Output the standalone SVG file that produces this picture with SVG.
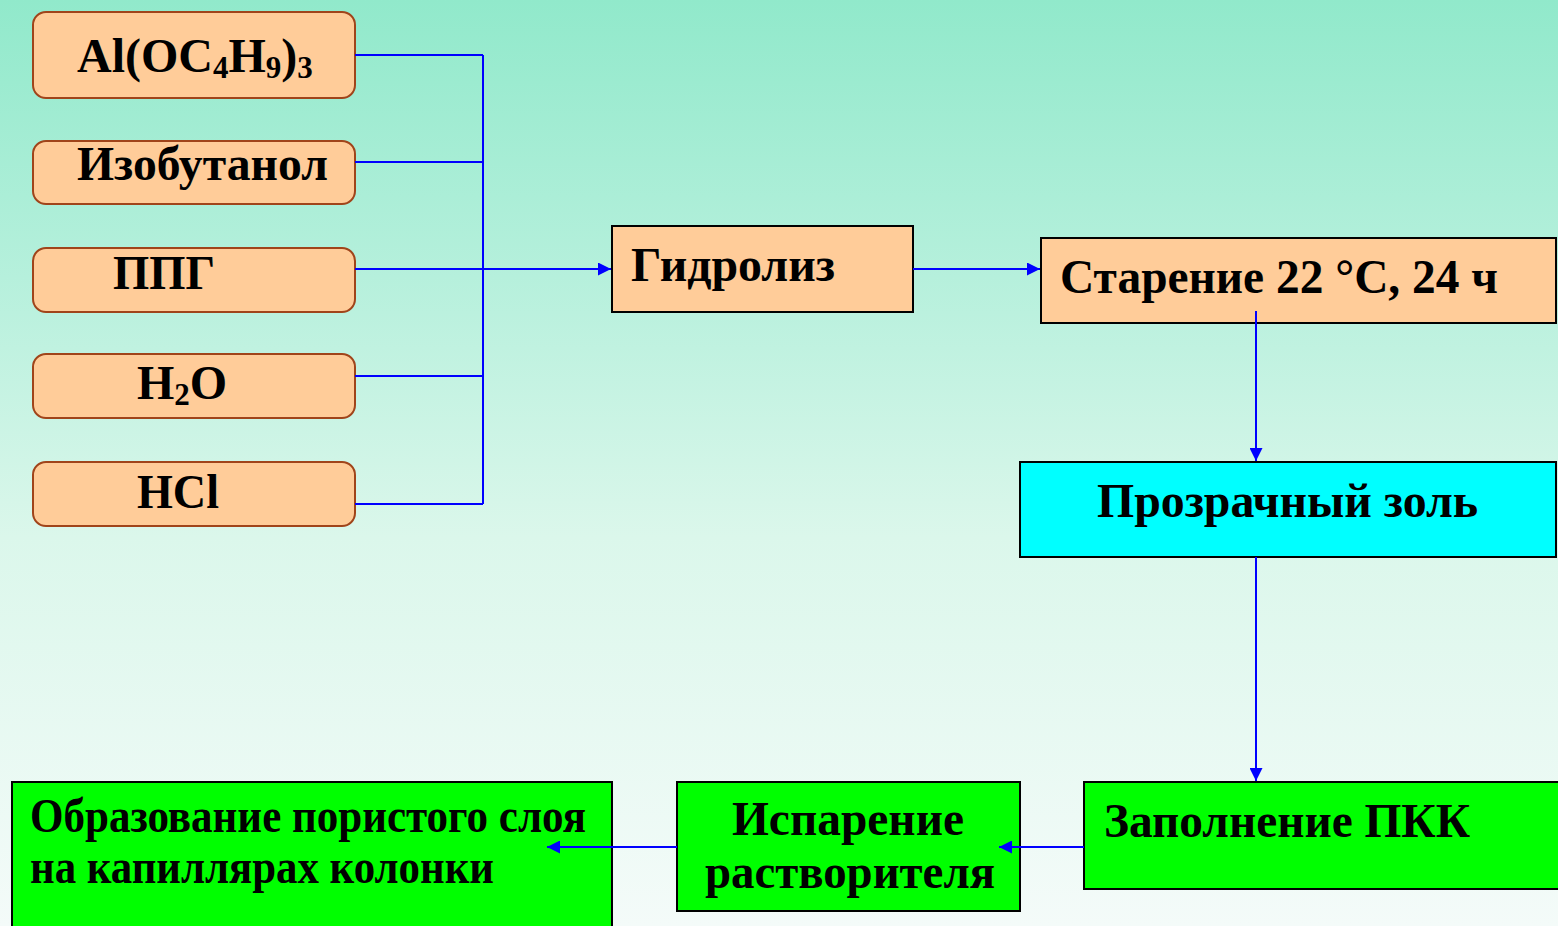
<svg xmlns="http://www.w3.org/2000/svg" width="1558" height="926" viewBox="0 0 1558 926">
  <defs>
    <linearGradient id="bg" x1="0" y1="0" x2="0" y2="1">
      <stop offset="0" stop-color="#91e9cb"/>
      <stop offset="0.3" stop-color="#b6f0dc"/>
      <stop offset="0.58" stop-color="#dbf7eb"/>
      <stop offset="1" stop-color="#f4fbf9"/>
    </linearGradient>
    <marker id="arr" markerUnits="userSpaceOnUse" markerWidth="13" markerHeight="13" refX="13" refY="6.5" orient="auto">
      <path d="M0,0 L13,6.5 L0,13 Z" fill="#0000ff"/>
    </marker>
    <style>
      .t { font-family: "Liberation Serif", "Times New Roman", serif; font-weight: bold; fill: #000; }
      .reagent { fill: #ffcc99; stroke: #a0441a; stroke-width: 2; }
      .step { fill: #ffcc99; stroke: #000; stroke-width: 2; }
      .sol { fill: #00ffff; stroke: #000; stroke-width: 2; }
      .green { fill: #00ff00; stroke: #000; stroke-width: 2; }
      .wire { fill: none; stroke: #0000ff; stroke-width: 2; }
    </style>
  </defs>

  <rect x="0" y="0" width="1558" height="926" fill="url(#bg)"/>

  <!-- reagents -->
  <g id="n-alkoxide">
    <rect class="reagent" x="33" y="12" width="322" height="86" rx="13"/>
    <text class="t" x="77" y="72" font-size="48">Al(OC<tspan font-size="31" dy="6">4</tspan><tspan dy="-6">H</tspan><tspan font-size="31" dy="6">9</tspan><tspan dy="-6">)</tspan><tspan font-size="31" dy="6">3</tspan></text>
  </g>
  <g id="n-isobutanol">
    <rect class="reagent" x="33" y="141" width="322" height="63" rx="13"/>
    <text class="t" x="77" y="180" font-size="48" textLength="251" lengthAdjust="spacingAndGlyphs">Изобутанол</text>
  </g>
  <g id="n-ppg">
    <rect class="reagent" x="33" y="248" width="322" height="64" rx="13"/>
    <text class="t" x="113" y="289" font-size="48" textLength="102" lengthAdjust="spacingAndGlyphs">ППГ</text>
  </g>
  <g id="n-water">
    <rect class="reagent" x="33" y="354" width="322" height="64" rx="13"/>
    <text class="t" x="137" y="399" font-size="48">H<tspan font-size="31" dy="6">2</tspan><tspan dy="-6">O</tspan></text>
  </g>
  <g id="n-hcl">
    <rect class="reagent" x="33" y="462" width="322" height="64" rx="13"/>
    <text class="t" x="137" y="508" font-size="48" textLength="82" lengthAdjust="spacingAndGlyphs">HCl</text>
  </g>

  <!-- process steps -->
  <g id="n-hydrolysis">
    <rect class="step" x="612" y="226" width="301" height="86"/>
    <text class="t" x="631" y="281" font-size="48" textLength="204" lengthAdjust="spacingAndGlyphs">Гидролиз</text>
  </g>
  <g id="n-ageing">
    <rect class="step" x="1041" y="238" width="515" height="85"/>
    <text class="t" x="1060" y="293" font-size="48" textLength="438" lengthAdjust="spacingAndGlyphs">Старение 22 °C, 24 ч</text>
  </g>
  <g id="n-sol">
    <rect class="sol" x="1020" y="462" width="536" height="95"/>
    <text class="t" x="1097" y="517" font-size="48" textLength="381" lengthAdjust="spacingAndGlyphs">Прозрачный золь</text>
  </g>
  <g id="n-filling">
    <rect class="green" x="1084" y="782" width="480" height="107"/>
    <text class="t" x="1104" y="837" font-size="48" textLength="366" lengthAdjust="spacingAndGlyphs">Заполнение ПКК</text>
  </g>
  <g id="n-evaporation">
    <rect class="green" x="677" y="782" width="343" height="129"/>
    <text class="t" x="732" y="835" font-size="48" textLength="232" lengthAdjust="spacingAndGlyphs">Испарение</text>
    <text class="t" x="705" y="888" font-size="48" textLength="290" lengthAdjust="spacingAndGlyphs">растворителя</text>
  </g>
  <g id="n-layer">
    <rect class="green" x="12" y="782" width="600" height="150"/>
    <text class="t" x="30" y="832" font-size="48" textLength="556" lengthAdjust="spacingAndGlyphs">Образование пористого слоя</text>
    <text class="t" x="30" y="883" font-size="48" textLength="464" lengthAdjust="spacingAndGlyphs">на капиллярах колонки</text>
  </g>

  <!-- connectors -->
  <g id="connectors">
    <path class="wire" d="M355,55 H483 M355,162 H483 M355,376 H483 M355,504 H483 M483,55 V504"/>
    <path class="wire" d="M355,269 H611" marker-end="url(#arr)"/>
    <path class="wire" d="M913,269 H1040" marker-end="url(#arr)"/>
    <path class="wire" d="M1256,311 V461" marker-end="url(#arr)"/>
    <path class="wire" d="M1256,557 V781" marker-end="url(#arr)"/>
    <path class="wire" d="M1084,847 H999" marker-end="url(#arr)"/>
    <path class="wire" d="M677,847 H547" marker-end="url(#arr)"/>
  </g>
</svg>
